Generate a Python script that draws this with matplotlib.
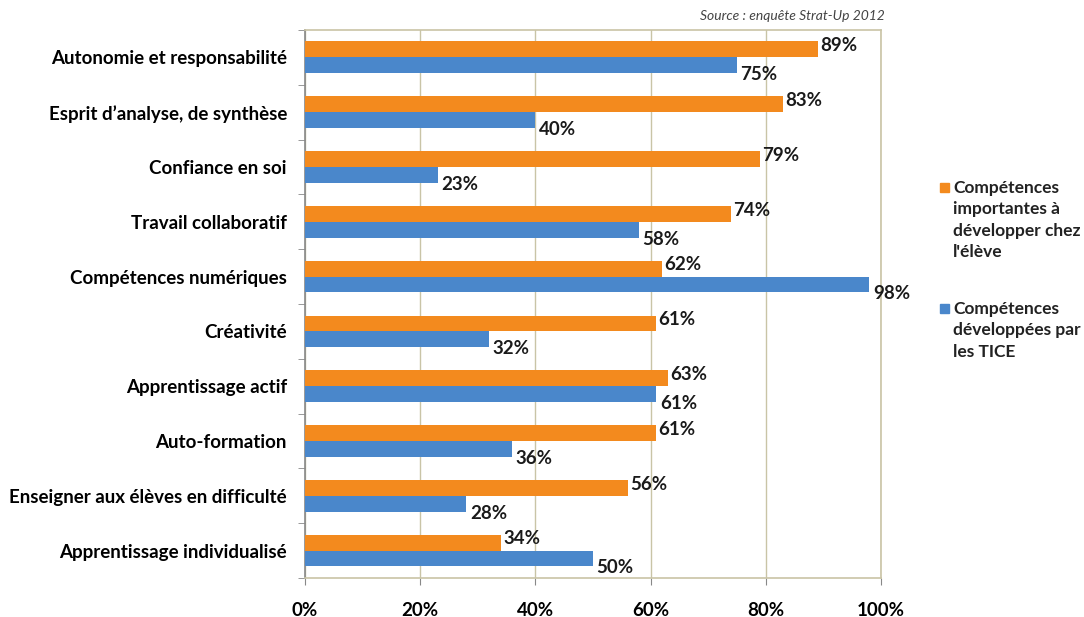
import matplotlib
matplotlib.use("Agg")
import matplotlib.pyplot as plt
from matplotlib.patches import Rectangle
import numpy as np

categories = [
    "Autonomie et responsabilité",
    "Esprit d’analyse, de synthèse",
    "Confiance en soi",
    "Travail collaboratif",
    "Compétences numériques",
    "Créativité",
    "Apprentissage actif",
    "Auto-formation",
    "Enseigner aux élèves en difficulté",
    "Apprentissage individualisé",
]
importantes = [89, 83, 79, 74, 62, 61, 63, 61, 56, 34]
tice = [75, 40, 23, 58, 98, 32, 61, 36, 28, 50]
xticks = [0, 20, 40, 60, 80, 100]
series_names = ["Compétences\nimportantes à\ndévelopper chez\nl'élève",
                "Compétences\ndéveloppées par\nles TICE"]
source = "Source : enquête Strat-Up 2012"

orange = "#F38A1E"
blue = "#4A87CB"
frame = "#C9C4A6"

plt.rcParams['font.family'] = ['Lato', 'DejaVu Sans']

W, H = 1084, 617
fig = plt.figure(figsize=(W / 100, H / 100), dpi=100)
ax = fig.add_axes([0.2814, 0.0632, 0.8127 - 0.2814, 0.9514 - 0.0632])

y = np.arange(len(categories))
h = 0.29
ax.barh(y - h/2, importantes, height=h, color=orange, zorder=3)
ax.barh(y + h/2, tice, height=h, color=blue, zorder=3)

fs = 13.5
for yi, v in zip(y, importantes):
    ax.text(v + 0.4, yi - h/2 - 0.07, f"{v}%", ha="left", va="center",
            fontsize=fs, fontweight="bold", color="#1a1a1a", zorder=4)
for yi, v in zip(y, tice):
    ax.text(v + 0.6, yi + h/2 + 0.17, f"{v}%", ha="left", va="center",
            fontsize=fs, fontweight="bold", color="#1a1a1a", zorder=4)

ax.set_xlim(0, 100)
ax.set_ylim(len(categories) - 0.5, -0.5)
ax.set_xticks(xticks)
ax.set_xticklabels([f"{t}%" for t in xticks], fontsize=fs, fontweight="bold")
ax.set_yticks(y)
ax.set_yticklabels(categories, fontsize=fs, fontweight="bold")
ax.set_yticks(np.arange(len(categories) + 1) - 0.5, minor=True)
ax.tick_params(axis="y", which="major", length=0, pad=13)
ax.tick_params(axis="y", which="minor", length=5, color="#888888", direction="out")
ax.tick_params(axis="x", length=5, color="#888888", pad=12)
ax.xaxis.grid(True, color=frame, linewidth=1, zorder=0)
for s in ax.spines.values():
    s.set_color(frame)
    s.set_linewidth(1.2)
ax.spines["left"].set_color("#888888")

fig.text(0.816, 0.965, source, ha="right", va="bottom", fontsize=10,
         style="italic", color="#444444")

# legend (square aligned with first line of each entry, as in the original)
for name, col, top_px in [(series_names[0], orange, 180), (series_names[1], blue, 301)]:
    sq = 9
    fig.patches.append(Rectangle((940 / W, 1 - (top_px + 3 + sq) / H), sq / W, sq / H,
                                 transform=fig.transFigure, color=col))
    fig.text(953 / W, 1 - top_px / H, name, ha="left", va="top", fontsize=12.5,
             fontweight="bold", color="#222222", linespacing=1.42)

fig.savefig("out.png", dpi=100)
